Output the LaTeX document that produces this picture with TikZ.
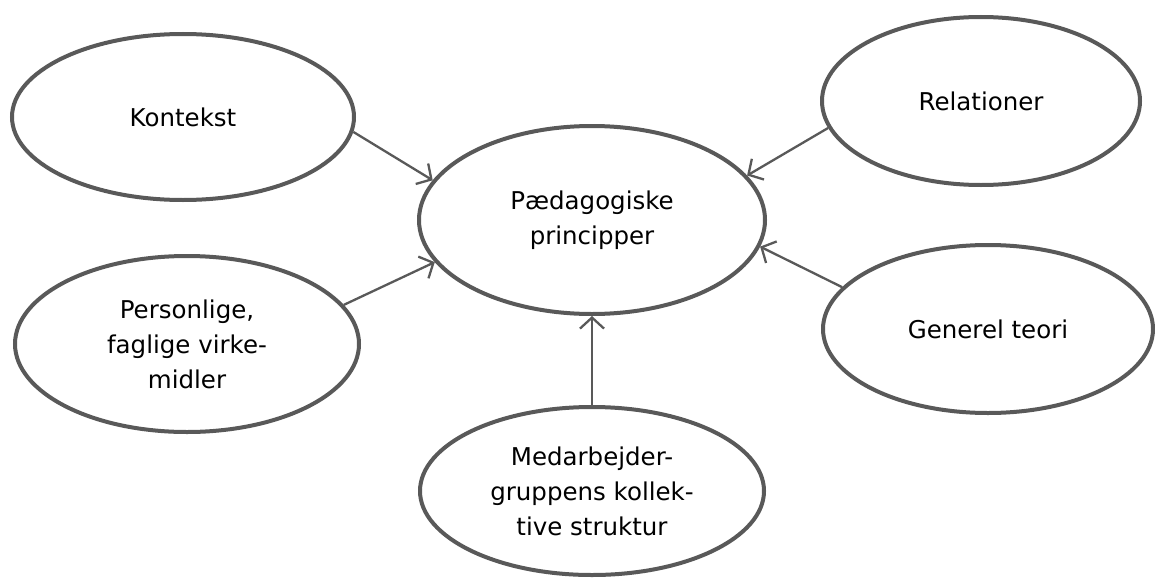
\documentclass[tikz,border=0pt]{standalone}
\usepackage{fontspec}
\setmainfont{DejaVu Sans}
\usetikzlibrary{shapes.geometric,arrows.meta}
\definecolor{edge}{HTML}{595959}
\tikzset{
  bubble/.style={ellipse, draw=edge, line width=4pt, inner sep=0pt, align=center,
    font=\fontsize{24.5}{35}\selectfont, text=black},
  link/.style={draw=edge, line width=2.3pt, -{Straight Barb[length=11pt,width=24pt,line width=2.3pt]}}
}
\begin{document}
\begin{tikzpicture}[x=1pt,y=-1pt]
\useasboundingbox (0,0) rectangle (1155,578);
\node[bubble, minimum width=342pt, minimum height=166pt] (k) at (183,117) {Kontekst};
\node[bubble, minimum width=318pt, minimum height=168pt] (r) at (981,101) {Relationer};
\node[bubble, minimum width=346pt, minimum height=188pt] (p) at (592,220) {Pædagogiske\\principper};
\node[bubble, minimum width=344pt, minimum height=176pt] (v) at (187,344) {Personlige,\\faglige virke-\\midler};
\node[bubble, minimum width=330pt, minimum height=168pt] (g) at (988,329) {Generel teori};
\node[bubble, minimum width=344pt, minimum height=168pt] (m) at (592,491) {Medarbejder-\\gruppens kollek-\\tive struktur};
\draw[link] (k.-5) -- (p.166);
\draw[link] (r.-170) -- (p.16);
\draw[link] (v.14) -- (p.195);
\draw[link] (g.164) -- (p.-9);
\draw[link] (m.north) -- (p.south);
\end{tikzpicture}
\end{document}
